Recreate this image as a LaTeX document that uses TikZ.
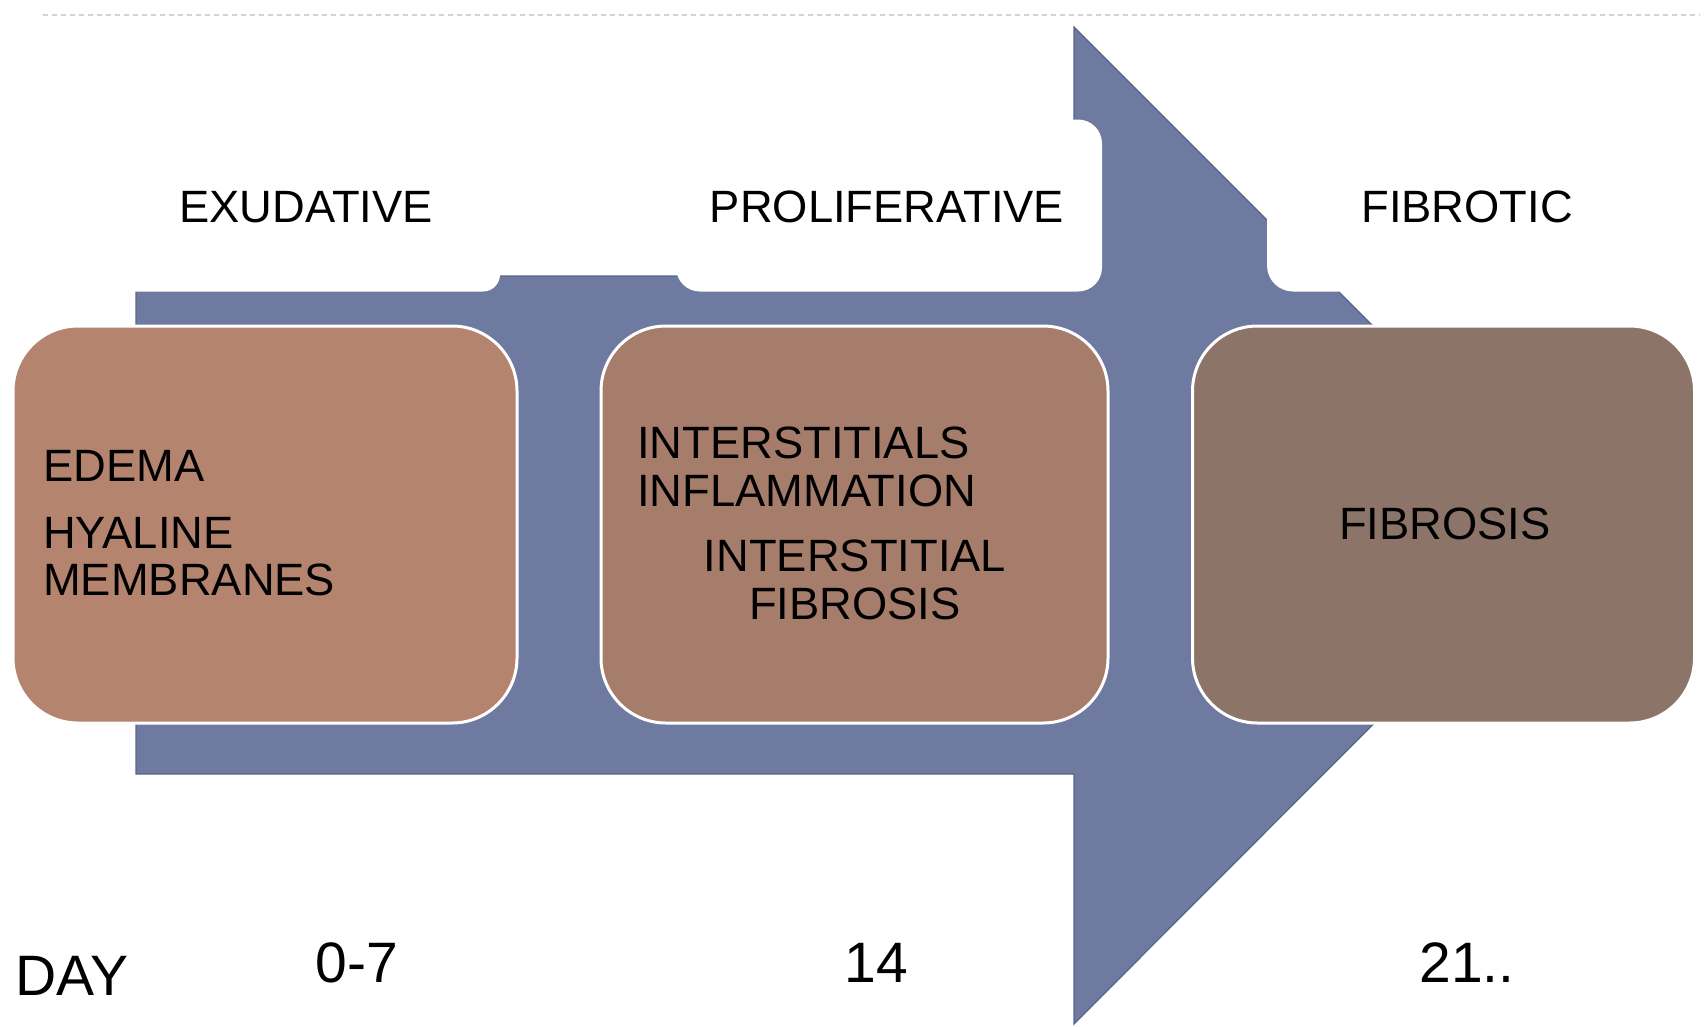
\documentclass[tikz,border=0pt]{standalone}
\usepackage{fontspec}
\setmainfont{Liberation Sans}
\definecolor{arrowblue}{HTML}{6F7AA1}
\definecolor{arrowedge}{HTML}{59648C}
\definecolor{boxA}{HTML}{B5846F}
\definecolor{boxB}{HTML}{A67C6B}
\definecolor{boxC}{HTML}{8D7469}
\definecolor{dotline}{HTML}{C8D6E2}
\tikzset{
  stagebox/.style={draw=white, line width=3pt, rounded corners=65pt, minimum width=504pt, minimum height=397pt, inner sep=0pt},
  tabbox/.style={fill=white, draw=none, inner sep=0pt},
  lbl/.style={inner sep=0pt, font=\fontsize{45.3}{47}\selectfont, text=black},
  daylbl/.style={inner sep=0pt, font=\fontsize{57}{60}\selectfont, text=black}
}
\begin{document}
\begin{tikzpicture}[x=1pt,y=-1pt]
\useasboundingbox (0,0) rectangle (1704,1026);
% dotted top line
\coordinate (dl) at (43,15);
\coordinate (dr) at (1700,15);
\draw[dotline, line width=2pt, dash pattern=on 5pt off 4pt] (dl) -- (dr);
% big arrow
\draw[fill=arrowblue, draw=arrowedge, line width=1.2pt, line join=miter]
  (136,276) -- (1074,276) -- (1074,27) -- (1572,525) -- (1074,1024) -- (1074,774) -- (136,774) -- cycle;
% white tabs
\node[tabbox, rounded corners=17pt, minimum width=440pt, minimum height=172pt] (tab1) at (280,205.5) {};
\node[tabbox, rounded corners=24pt, minimum width=426pt, minimum height=172pt] (tab2) at (889,205.5) {};
\node[tabbox, rounded corners=26pt, minimum width=433pt, minimum height=172pt] (tab3) at (1483.5,205.5) {};
% phase labels
\node[lbl, anchor=base] (ex) at (306,222) {EXUDATIVE};
\node[lbl, anchor=base] (pro) at (887,222) {PROLIFERATIVE};
\node[lbl, anchor=base] (fib) at (1467,222) {FIBROTIC};
% stage boxes
\node[stagebox, fill=boxA] (b1) at (265,524.5) {};
\node[stagebox, fill=boxB, minimum width=507pt] (b2) at (854.5,524.5) {};
\node[stagebox, fill=boxC, minimum width=502pt] (b3) at (1443.5,524.5) {};
% box 1 text
\node[lbl, anchor=base west] (t1a) at (43,481) {EDEMA};
\node[lbl, anchor=base west] (t1b) at (43,548.5) {HYALINE};
\node[lbl, anchor=base west] (t1c) at (43,595) {MEMBRANES};
% box 2 text
\node[lbl, anchor=base west] (t2a) at (637,458) {INTERSTITIALS};
\node[lbl, anchor=base west] (t2b) at (637,506) {INFLAMMATION};
\node[lbl, anchor=base] (t2c) at (855,571) {INTERSTITIAL};
\node[lbl, anchor=base] (t2d) at (855,619) {FIBROSIS};
% box 3 text
\node[lbl, anchor=base] (t3) at (1445,539) {FIBROSIS};
% day row
\node[daylbl, anchor=base west] (day) at (15,995) {DAY};
\node[daylbl, anchor=base] (d1) at (357,982) {0-7};
\node[daylbl, anchor=base] (d2) at (876,982) {14};
\node[daylbl, anchor=base] (d3) at (1467,982) {21..};
\end{tikzpicture}
\end{document}
